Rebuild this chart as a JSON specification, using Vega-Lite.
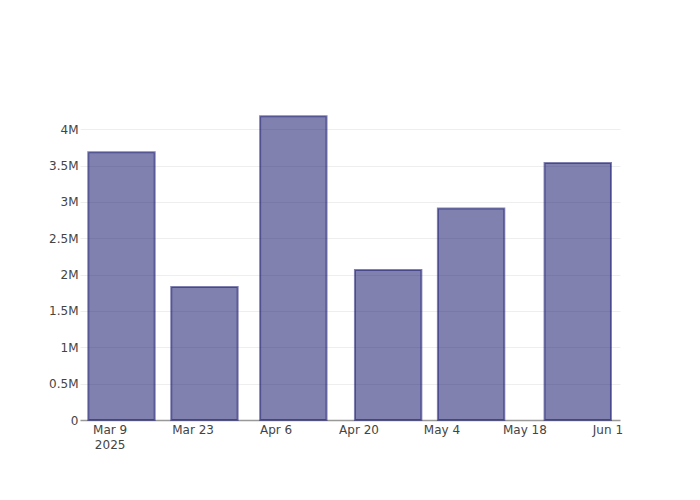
{
  "$schema": "https://vega.github.io/schema/vega-lite/v6.json",
  "width": 540,
  "height": 320,
  "autosize": {"type": "none"},
  "padding": {"left": 80, "top": 100, "right": 80, "bottom": 80},
  "background": "white",
  "config": {
    "view": {"stroke": null},
    "font": "DejaVu Sans"
  },
  "data": {
    "values": [
      {"date": "2025-03-11", "value": 3684000},
      {"date": "2025-03-25", "value": 1828000},
      {"date": "2025-04-09", "value": 4179000},
      {"date": "2025-04-25", "value": 2062000},
      {"date": "2025-05-09", "value": 2910000},
      {"date": "2025-05-27", "value": 3537000}
    ]
  },
  "mark": {
    "type": "bar",
    "width": 66.4,
    "fill": "#191970",
    "fillOpacity": 0.55,
    "stroke": "#191970",
    "strokeOpacity": 0.55,
    "strokeWidth": 2
  },
  "encoding": {
    "x": {
      "field": "date",
      "type": "temporal",
      "scale": {
        "type": "utc",
        "nice": false,
        "padding": 0,
        "domain": [
          {"year": 2025, "month": 3, "date": 4, "hours": 0, "utc": true},
          {"year": 2025, "month": 6, "date": 3, "hours": 3, "utc": true}
        ]
      },
      "axis": {
        "title": null,
        "values": [
          {"year": 2025, "month": 3, "date": 9, "utc": true},
          {"year": 2025, "month": 3, "date": 23, "utc": true},
          {"year": 2025, "month": 4, "date": 6, "utc": true},
          {"year": 2025, "month": 4, "date": 20, "utc": true},
          {"year": 2025, "month": 5, "date": 4, "utc": true},
          {"year": 2025, "month": 5, "date": 18, "utc": true},
          {"year": 2025, "month": 6, "date": 1, "utc": true}
        ],
        "labelExpr": "utcFormat(datum.value, '%m-%d') == '03-09' ? ['Mar 9', '2025'] : utcFormat(datum.value, '%b %-d')",
        "grid": false,
        "ticks": false,
        "domain": true,
        "domainColor": "#999",
        "domainWidth": 1.3,
        "labelFont": "DejaVu Sans",
        "labelFontSize": 12,
        "labelColor": "#444",
        "labelPadding": 4,
        "labelFlush": false,
        "labelOverlap": false,
        "labelBaseline": "top",
        "labelLineHeight": 15
      }
    },
    "y": {
      "field": "value",
      "type": "quantitative",
      "scale": {"domain": [0, 4402000], "nice": false, "zero": true},
      "axis": {
        "title": null,
        "values": [0, 500000, 1000000, 1500000, 2000000, 2500000, 3000000, 3500000, 4000000],
        "labelExpr": "datum.value == 0 ? '0' : format(datum.value / 1000000, '~g') + 'M'",
        "grid": true,
        "gridColor": "#eeeeee",
        "gridWidth": 1,
        "ticks": false,
        "domain": false,
        "labelFont": "DejaVu Sans",
        "labelFontSize": 12,
        "labelColor": "#444",
        "labelPadding": 2
      }
    }
  }
}
